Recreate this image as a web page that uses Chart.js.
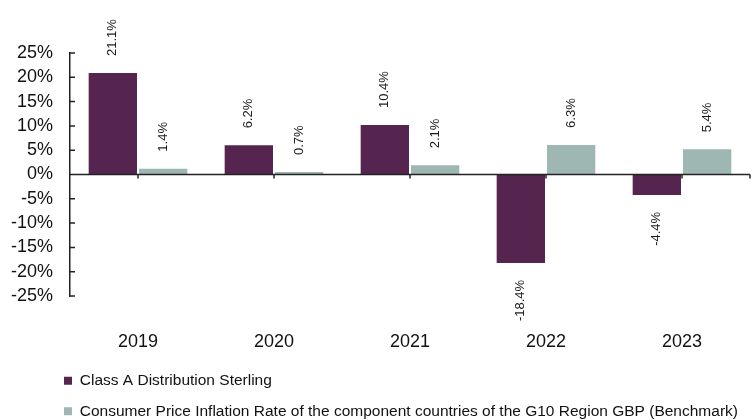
<!DOCTYPE html>
<html>
<head>
<meta charset="utf-8">
<script src="https://cdn.jsdelivr.net/npm/chart.js@4.4.1/dist/chart.umd.min.js"></script>
<style>
html,body{margin:0;padding:0;background:#fff;}
canvas{display:block;}
</style>
</head>
<body>
<canvas id="c" width="753" height="420"></canvas>
<script>
const categories = ["2019", "2020", "2021", "2022", "2023"];
const classAValues = [21.1, 6.2, 10.4, -18.4, -4.4];
const benchmarkValues = [1.4, 0.7, 2.1, 6.3, 5.4];
const seriesNames = [
  "Class A Distribution Sterling",
  "Consumer Price Inflation Rate of the component countries of the G10 Region GBP (Benchmark)"
];
const yTickMin = -25, yTickMax = 25, yTickStep = 5;

const FONT = "'Liberation Sans', Arial, sans-serif";
const PURPLE = "#55244F";
const TEAL = "#9FB7B3";

const valueLabels = {
  id: "valueLabels",
  afterDatasetsDraw(chart) {
    const ctx = chart.ctx;
    ctx.save();
    ctx.font = "13px " + FONT;
    ctx.fillStyle = "#1a1a1a";
    ctx.textBaseline = "middle";
    chart.data.datasets.forEach((ds, di) => {
      const meta = chart.getDatasetMeta(di);
      meta.data.forEach((bar, i) => {
        const v = ds.data[i];
        const txt = v.toFixed(1) + "%";
        ctx.save();
        if (v >= 0) {
          ctx.translate(bar.x, bar.y - 16);
          ctx.rotate(-Math.PI / 2);
          ctx.textAlign = "left";
        } else {
          ctx.translate(bar.x, bar.y + 16);
          ctx.rotate(-Math.PI / 2);
          ctx.textAlign = "right";
        }
        ctx.fillText(txt, 0, 0);
        ctx.restore();
      });
    });
    ctx.restore();
  }
};

const axisDecor = {
  id: "axisDecor",
  afterLayout(chart) {
    if (chart.legend) {
      chart.legend.left += 49;
      chart.legend.right += 49;
    }
  },
  afterDatasetsDraw(chart) {
    const ctx = chart.ctx;
    const x = chart.scales.x, y = chart.scales.y;
    const area = chart.chartArea;
    ctx.save();
    ctx.strokeStyle = "#222";
    ctx.lineWidth = 1.5;
    const y0 = y.getPixelForValue(0);
    ctx.beginPath();
    ctx.moveTo(area.left, y0);
    ctx.lineTo(area.right, y0);
    categories.forEach((c, i) => {
      const px = x.getPixelForValue(i);
      ctx.moveTo(px, y0);
      ctx.lineTo(px, y0 + 4);
    });
    ctx.moveTo(area.right, y0);
    ctx.lineTo(area.right, y0 + 4);
    y.ticks.forEach(t => {
      const py = y.getPixelForValue(t.value);
      ctx.moveTo(area.left, py);
      ctx.lineTo(area.left + 5, py);
    });
    ctx.stroke();
    ctx.restore();
  }
};

new Chart(document.getElementById("c"), {
  type: "bar",
  data: {
    labels: categories,
    datasets: [
      { label: seriesNames[0], data: classAValues, backgroundColor: PURPLE, borderColor: "rgba(255,255,255,0.7)", borderWidth: 1 },
      { label: seriesNames[1], data: benchmarkValues, backgroundColor: TEAL, borderColor: "rgba(255,255,255,0.7)", borderWidth: 1 }
    ]
  },
  options: {
    responsive: false,
    animation: false,
    devicePixelRatio: 1,
    layout: { padding: { left: 0, right: 3, top: 53, bottom: -9 } },
    datasets: { bar: { categoryPercentage: 0.74, barPercentage: 1.0 } },
    scales: {
      x: {
        grid: { display: false, drawTicks: false },
        border: { display: false },
        ticks: { font: { family: FONT, size: 18 }, color: "#111", padding: 35, maxRotation: 0 },
        afterFit(s) { s.height = 62; }
      },
      y: {
        min: yTickMin, max: yTickMax,
        grid: { drawOnChartArea: false, drawTicks: false },
        border: { display: true, color: "#222", width: 1.5 },
        ticks: { stepSize: yTickStep, autoSkip: false, font: { family: FONT, size: 18 }, color: "#111", padding: 17,
          callback: v => v + "%" },
        afterFit(s) { s.width = 70; }
      }
    },
    plugins: {
      tooltip: { enabled: false },
      legend: {
        position: "bottom",
        align: "start",
        labels: {
          font: { family: FONT, size: 15.5 },
          color: "#111",
          boxWidth: 8,
          boxHeight: 8,
          padding: 15,
          generateLabels(chart) {
            return Chart.defaults.plugins.legend.labels.generateLabels(chart).map(l => Object.assign(l, { lineWidth: 0, strokeStyle: l.fillStyle }));
          }
        }
      }
    }
  },
  plugins: [valueLabels, axisDecor]
});
</script>
</body>
</html>
